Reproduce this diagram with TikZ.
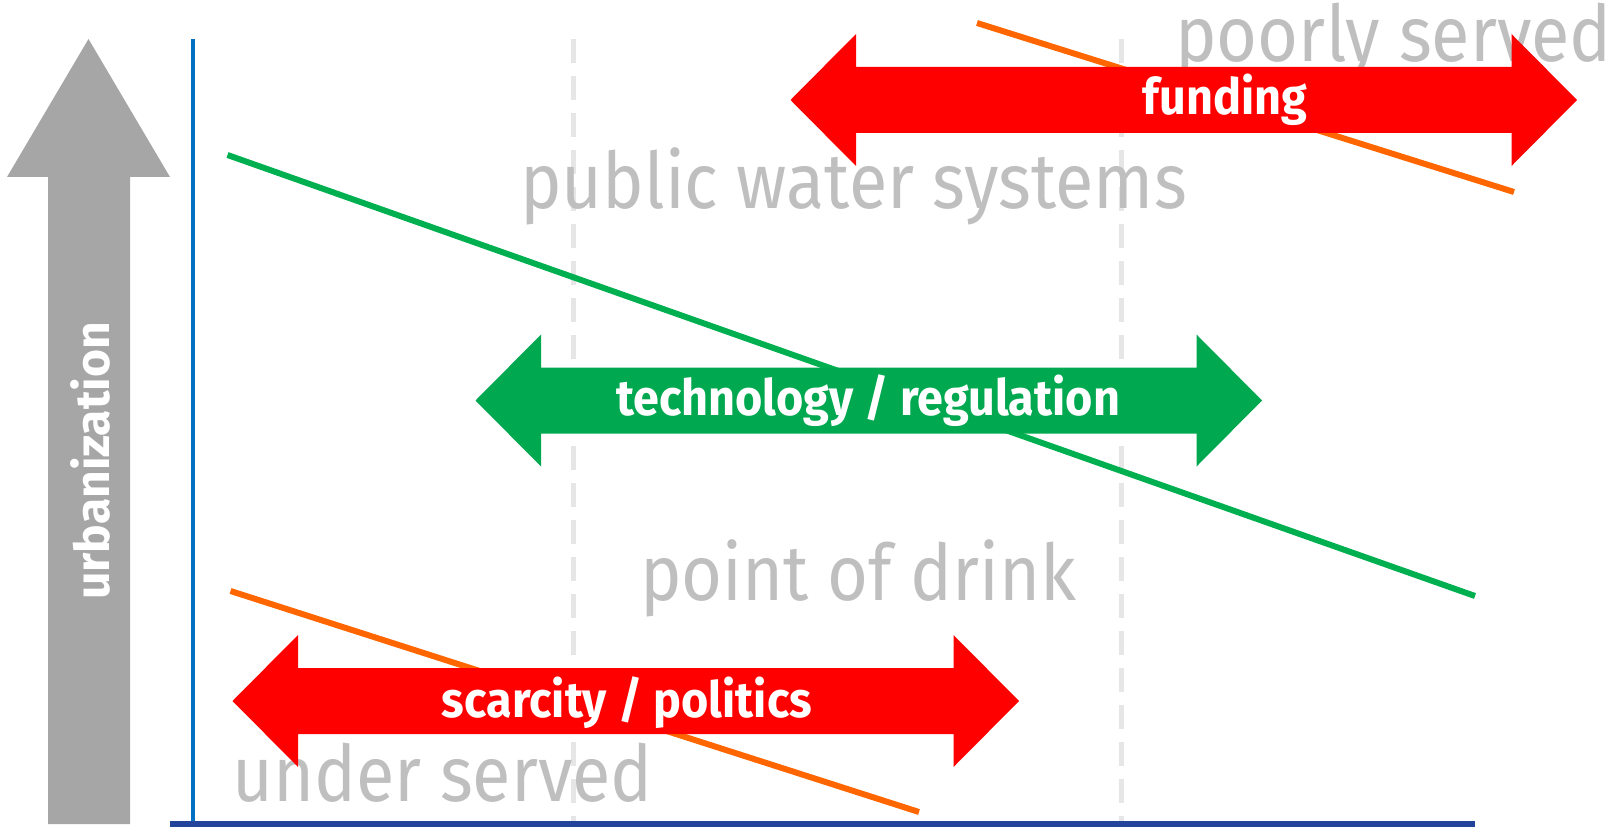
\documentclass[tikz,border=0pt]{standalone}
\usepackage{fontspec}
\setmainfont{Fira Sans}
\newfontfamily\zonefont[FakeStretch=0.9]{Fira Sans}
\newfontfamily\forcefont[FakeStretch=0.935]{Fira Sans}
\definecolor{arrowgray}{HTML}{A6A6A6}
\definecolor{labelgray}{HTML}{BFBFBF}
\definecolor{axisblue}{HTML}{0070C0}
\definecolor{basisblue}{HTML}{22449A}
\definecolor{dashgray}{HTML}{E6E6E6}
\definecolor{linegreen}{HTML}{00B050}
\definecolor{arrowgreen}{HTML}{00A84F}
\definecolor{lineorange}{HTML}{FF6600}
\definecolor{arrowred}{HTML}{FF0000}
\tikzset{
  guide/.style={draw=dashgray,line width=5pt,dash pattern=on 24pt off 13pt},
  trend/.style={line width=6pt},
  zone/.style={text=labelgray,inner sep=0pt,anchor=base west,font=\zonefont\fontsize{78}{80}\selectfont},
  force/.style={text=white,inner sep=0pt,font=\forcefont\bfseries\fontsize{50}{52}\selectfont},
}
% double arrow: #1 left tip x, #2 right tip x, #3 centre y, #4 colour
\newcommand{\twoway}[4]{%
  \fill[#4] (#1,#3) -- ({#1+65.5},{#3-66}) -- ({#1+65.5},{#3-33}) -- ({#2-65.5},{#3-33})
    -- ({#2-65.5},{#3-66}) -- (#2,#3) -- ({#2-65.5},{#3+66}) -- ({#2-65.5},{#3+33})
    -- ({#1+65.5},{#3+33}) -- ({#1+65.5},{#3+66}) -- cycle;}
\begin{document}
\begin{tikzpicture}[x=1pt,y=-1pt]
\useasboundingbox (0,0) rectangle (1614,829);
% guides
\coordinate (g1t) at (573,39); \coordinate (g1b) at (573,823);
\coordinate (g2t) at (1121,39); \coordinate (g2b) at (1121,823);
\draw[guide] (g1t) -- (g1b);
\draw[guide] (g2t) -- (g2b);
% urbanization arrow
\fill[arrowgray] (48,824) -- (48,177) -- (7,177) -- (88.5,39) -- (170,177) -- (130,177) -- (130,824) -- cycle;
\node[text=white,inner sep=0pt,rotate=90,font=\bfseries\fontsize{48}{50}\selectfont] (urb) at (90,461) {urbanization};
% axes
\coordinate (ytop) at (192.5,39); \coordinate (ybot) at (192.5,826);
\coordinate (xl) at (170,824); \coordinate (xr) at (1475,824);
\draw[axisblue,line width=4pt] (ytop) -- (ybot);
\draw[basisblue,line width=6pt] (xl) -- (xr);
% trend lines
\coordinate (gA) at (227.5,155); \coordinate (gB) at (1475,596);
\coordinate (oA) at (977,23); \coordinate (oB) at (1514,192);
\coordinate (pA) at (230.5,591); \coordinate (pB) at (919,812);
\draw[trend,linegreen] (gA) -- (gB);
\draw[trend,lineorange] (oA) -- (oB);
\draw[trend,lineorange] (pA) -- (pB);
% zone labels
\node[zone] (poor) at (1175,62) {poorly served};
\node[zone] (pws) at (520,209) {public water systems};
\node[zone] (pod) at (640,600) {point of drink};
\node[zone] (under) at (232,801) {under served};
% forces
\twoway{790.5}{1577}{100}{arrowred}
\twoway{475.5}{1262}{400.5}{arrowgreen}
\twoway{232.5}{1019}{701}{arrowred}
\node[force] (fund) at (1225,100) {funding};
\node[force] (tech) at (868,400.5) {technology / regulation};
\node[force] (scar) at (627,703) {scarcity / politics};
\end{tikzpicture}
\end{document}
